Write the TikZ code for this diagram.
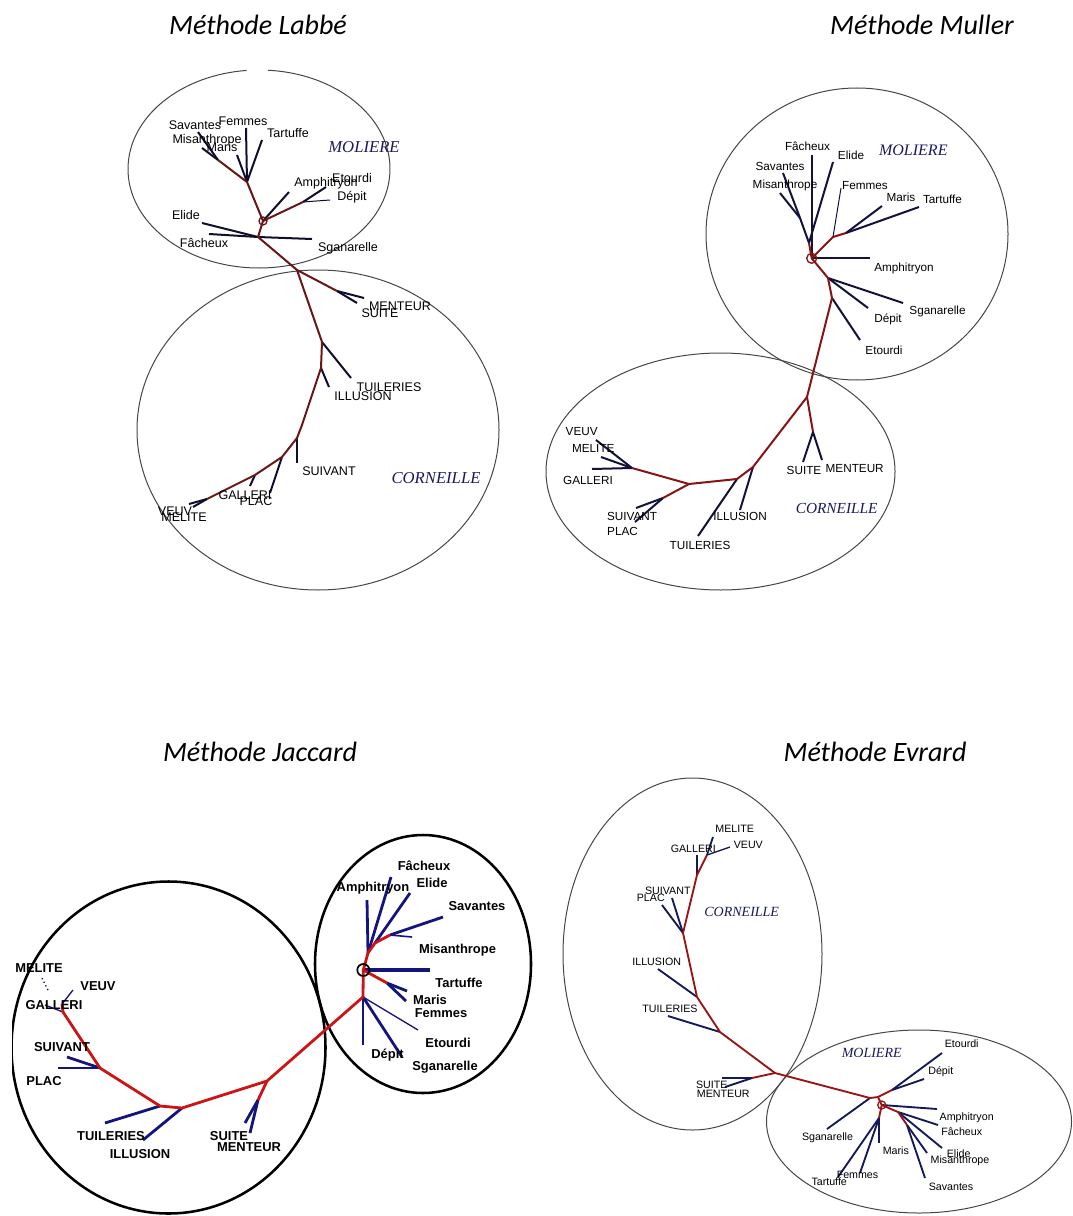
\documentclass[tikz,border=0pt]{standalone}
\usepackage{fontspec}
\setmainfont{Liberation Sans}
\newfontfamily\titlefont{Carlito}
\newfontfamily\grpfont{Liberation Serif}
\definecolor{ringgray}{RGB}{70,70,70}
\definecolor{grpnavy}{RGB}{25,25,95}
\definecolor{trunkA}{RGB}{105,22,22}
\definecolor{leafA}{RGB}{15,15,45}
\definecolor{trunkB}{RGB}{135,20,20}
\definecolor{leafB}{RGB}{18,18,60}
\definecolor{trunkC}{RGB}{205,20,20}
\definecolor{leafC}{RGB}{20,20,125}
\definecolor{trunkD}{RGB}{155,20,20}
\definecolor{leafD}{RGB}{20,25,90}

\tikzset{every picture/.style={line width=0.75pt}}

\begin{document}
\begin{tikzpicture}[x=0.75pt,y=0.75pt,yscale=-1,xscale=1,
    ring/.style={draw=ringgray, line width=0.75},
    thickring/.style={draw=black, line width=1.9},
    ttl/.style={inner sep=0pt, font=\titlefont\itshape\fontsize{21}{25}\selectfont},
    grp/.style={inner sep=0pt, text=grpnavy, font=\grpfont\itshape\fontsize{#1}{#1}\selectfont},
    labA/.style={inner sep=0pt, font=\fontsize{9.4}{10}\selectfont},
    labB/.style={inner sep=0pt, font=\fontsize{8.8}{9}\selectfont},
    labC/.style={inner sep=0pt, font=\bfseries\fontsize{9.7}{10}\selectfont},
    labD/.style={inner sep=0pt, font=\fontsize{8}{9}\selectfont},
    trA/.style={draw=trunkA, line width=1.5, line join=round},
    lfA/.style={draw=leafA, line width=1.5},
    trB/.style={draw=trunkB, line width=1.5, line join=round},
    lfB/.style={draw=leafB, line width=1.5},
    trC/.style={draw=trunkC, line width=2.1, line join=round},
    lfC/.style={draw=leafC, line width=2.1},
    trD/.style={draw=trunkD, line width=1.4, line join=round},
    lfD/.style={draw=leafD, line width=1.4}]
\useasboundingbox (0,0) rectangle (1072,1216);

% Titles
\node[ttl] (ttlLabbe) at (258,25) {Méthode Labbé};
\node[ttl] (ttlMuller) at (922,25) {Méthode Muller};
\node[ttl] (ttlJaccard) at (260,752) {Méthode Jaccard};
\node[ttl] (ttlEvrard) at (875,752) {Méthode Evrard};

%%%%%%%%%%%%%%%% Labbe
\draw[ring] (259,169) ++(274:131 and 99) arc[start angle=274, end angle=624.6, x radius=131, y radius=99];
\draw[ring] (318,430) ellipse [x radius=181, y radius=160];
% junctions
\coordinate (lbR) at (263,221);
\coordinate (lbA1) at (258,237);
\coordinate (lbA2) at (297,270);
\coordinate (lbA3) at (322,342);
\coordinate (lbA4) at (321,368);
\coordinate (lbA5) at (302,425);
\coordinate (lbA6) at (297,438);
\coordinate (lbA7) at (282,457);
\coordinate (lbA8) at (255,475);
\coordinate (lbA9) at (207,499);
\coordinate (lbB1) at (247,182);
\coordinate (lbB2) at (218,160);
\coordinate (lbC1) at (303,202);
\coordinate (lbD1) at (337,291);
% leaves
\draw[lfA] (lbA1) -- (202,223) coordinate (lbElideE);
\draw[lfA] (lbA1) -- (209,234) coordinate (lbFachE);
\draw[lfA] (lbA1) -- (312,239) coordinate (lbSganE);
\draw[lfA] (lbB1) -- (246,128) coordinate (lbFemE);
\draw[lfA] (lbB1) -- (262,140) coordinate (lbTartE);
\draw[lfA] (lbB1) -- (237,155) coordinate (lbMarisE);
\draw[lfA] (lbB2) -- (202,148) coordinate (lbMisE);
\draw[lfA] (lbB2) -- (198,132) coordinate (lbSavE);
\draw[lfA] (lbR) -- (289,192) coordinate (lbAmphE);
\draw[lfA] (lbC1) -- (326,187) coordinate (lbEtoE);
\draw[lfA, line width=0.75] (lbC1) -- (330,200) coordinate (lbDepE);
\draw[lfA] (lbD1) -- (364,298) coordinate (lbMentE);
\draw[lfA] (lbD1) -- (357,303) coordinate (lbSuiteE);
\draw[lfA] (lbA3) -- (351,378) coordinate (lbTuilE);
\draw[lfA] (lbA4) -- (329,387) coordinate (lbIllE);
\draw[lfA] (lbA6) -- (297,463) coordinate (lbSuivE);
\draw[lfA] (lbA7) -- (270,493) coordinate (lbPlacE);
\draw[lfA] (lbA8) -- (250,486) coordinate (lbGallE);
\draw[lfA] (lbA9) -- (189,504) coordinate (lbVeuvE);
\draw[lfA] (lbA9) -- (193,507) coordinate (lbMelE);
% trunk
\draw[trA] (lbB2) -- (lbB1) -- (lbR) -- (lbA1) -- (lbA2) -- (lbA3) -- (lbA4) -- (lbA5) -- (lbA6) -- (lbA7) -- (lbA8) -- (lbA9);
\draw[trA] (lbR) -- (lbC1);
\draw[trA] (lbA2) -- (lbD1);
\draw[trA, line width=1] (lbR) circle [radius=4];
% labels
\node[labA] (lbSavantes) at (195,125) {Savantes};
\node[labA] (lbFemmes) at (243,121) {Femmes};
\node[labA] (lbTartuffe) at (288,133) {Tartuffe};
\node[labA] (lbMisanthrope) at (207,140) {Misanthrope};
\node[labA] (lbMaris) at (222,147) {Maris};
\node[labA] (lbAmphitryon) at (326,183) {Amphitryon};
\node[labA] (lbEtourdi) at (352,178) {Etourdi};
\node[labA] (lbDepit) at (352,197) {Dépit};
\node[labA] (lbElide) at (186,215) {Elide};
\node[labA] (lbFacheux) at (204,243) {Fâcheux};
\node[labA] (lbSganarelle) at (348,248) {Sganarelle};
\node[labA] (lbMenteur) at (400,306) {MENTEUR};
\node[labA] (lbSuite) at (380,313) {SUITE};
\node[labA] (lbTuileries) at (389,387) {TUILERIES};
\node[labA] (lbIllusion) at (363,396) {ILLUSION};
\node[labA] (lbSuivant) at (329,471) {SUIVANT};
\node[labA] (lbGalleri) at (245,495) {GALLERI};
\node[labA] (lbPlac) at (256,501) {PLAC};
\node[labA] (lbVeuv) at (175,511) {VEUV};
\node[labA] (lbMelite) at (184,517) {MELITE};
\node[grp=12.5] (lbMoliere) at (364,147) {MOLIERE};
\node[grp=12.5] (lbCorneille) at (436,478) {CORNEILLE};

%%%%%%%%%%%%%%%% Muller
\draw[ring] (857,234) ellipse [x radius=151, y radius=146];
\draw[ring] (720.5,471.5) ellipse [x radius=174.5, y radius=118.5];
% junctions
\coordinate (muR) at (811.7,258.3);
\coordinate (muM1) at (809,243);
\coordinate (muM2) at (800,218);
\coordinate (muM3) at (833,237);
\coordinate (muM4) at (846,233);
\coordinate (muM5) at (828,278);
\coordinate (muM6) at (832,298);
\coordinate (muM7) at (807,397);
\coordinate (muM8) at (753,467);
\coordinate (muM9) at (737,479);
\coordinate (muM10) at (689,484);
\coordinate (muM11) at (632,468);
\coordinate (muM12) at (813,432);
\coordinate (muM13) at (663,498);
% leaves
\draw[lfB] (muM1) -- (muM2) -- (783,173) coordinate (muSavE);
\draw[lfB] (muM2) -- (780,193) coordinate (muMisE);
\draw[lfB] (muR) -- (811.7,155) coordinate (muFachE);
\draw[lfB] (muM1) -- (833,162) coordinate (muElideE);
\draw[lfB, line width=0.75] (muM3) -- (841,188) coordinate (muFemE);
\draw[lfB] (muM4) -- (882,206) coordinate (muMarisE);
\draw[lfB] (muM4) -- (919,207) coordinate (muTartE);
\draw[lfB] (muR) -- (870,258.3) coordinate (muAmphE);
\draw[lfB] (muM5) -- (903,303) coordinate (muSganE);
\draw[lfB] (muM5) -- (868,308) coordinate (muDepE);
\draw[lfB] (muM6) -- (860,340) coordinate (muEtoE);
\draw[lfB] (muM12) -- (803,462) coordinate (muSuiteE);
\draw[lfB] (muM12) -- (822,460) coordinate (muMentE);
\draw[lfB] (muM8) -- (740,510) coordinate (muIllE);
\draw[lfB] (muM9) -- (698,536) coordinate (muTuilE);
\draw[lfB] (muM13) -- (636,508) coordinate (muSuivE);
\draw[lfB] (muM13) -- (635,522) coordinate (muPlacE);
\draw[lfB] (muM11) -- (596,440) coordinate (muVeuvE);
\draw[lfB] (muM11) -- (601,457) coordinate (muMelE);
\draw[lfB] (muM11) -- (592,469) coordinate (muGallE);
% trunk
\draw[trB] (muM1) -- (muR) -- (muM3) -- (muM4);
\draw[trB] (muR) -- (muM5) -- (muM6) -- (muM7) -- (muM8) -- (muM9) -- (muM10) -- (muM11);
\draw[trB] (muM7) -- (muM12);
\draw[trB] (muM10) -- (muM13);
\draw[trB, line width=1] (muR) circle [radius=5];
% labels
\node[labB] (muFacheux) at (807.5,146) {Fâcheux};
\node[labB] (muElide) at (851,155) {Elide};
\node[labB] (muSavantes) at (780,166) {Savantes};
\node[labB] (muMisanthrope) at (785,185) {Misanthrope};
\node[labB] (muFemmes) at (865,186) {Femmes};
\node[labB] (muMaris) at (901,197) {Maris};
\node[labB] (muTartuffe) at (942.5,199) {Tartuffe};
\node[labB] (muAmphitryon) at (904,268) {Amphitryon};
\node[labB] (muSganarelle) at (937.5,311.7) {Sganarelle};
\node[labB] (muDepit) at (888,319) {Dépit};
\node[labB] (muEtourdi) at (884,350) {Etourdi};
\node[labB] (muVeuv) at (581.7,431.7) {VEUV};
\node[labB] (muMelite) at (593.3,448.3) {MELITE};
\node[labB] (muGalleri) at (588,480) {GALLERI};
\node[labB] (muSuite) at (804,470.7) {SUITE};
\node[labB] (muMenteur) at (854.7,468.3) {MENTEUR};
\node[labB] (muSuivant) at (632,516.7) {SUIVANT};
\node[labB] (muPlac) at (622.5,531.7) {PLAC};
\node[labB] (muIllusion) at (740,516) {ILLUSION};
\node[labB] (muTuileries) at (700,545) {TUILERIES};
\node[grp=12] (muMoliere) at (913.3,150) {MOLIERE};
\node[grp=11.5] (muCorneille) at (836.7,508.3) {CORNEILLE};

%%%%%%%%%%%%%%%% Jaccard
\begin{scope}
  \clip (12,850) rectangle (545,1216);
  \draw[thickring] (168.5,1047.5) ellipse [x radius=157, y radius=166];
\end{scope}
\draw[thickring] (423,964) ellipse [x radius=108, y radius=129];
% junctions
\coordinate (jaR) at (363.3,970);
\coordinate (jaJ1) at (368,953);
\coordinate (jaJ2) at (375,943);
\coordinate (jaJ3) at (390,935);
\coordinate (jaJ4) at (387,983);
\coordinate (jaJ5) at (363,997);
\coordinate (jaJ7) at (267,1081);
\coordinate (jaJ8) at (182,1108);
\coordinate (jaJ9) at (160,1106);
\coordinate (jaJ10) at (100,1068);
\coordinate (jaJ11) at (63,1012);
\coordinate (jaJ12) at (62,1004);
\coordinate (jaJ13) at (258,1100);
% leaves
\draw[lfC] (jaJ1) -- (367,900) coordinate (jaAmphE);
\draw[lfC] (jaJ1) -- (391,877) coordinate (jaFachE);
\draw[lfC] (jaJ2) -- (410,893) coordinate (jaElideE);
\draw[lfC] (jaJ3) -- (443,917) coordinate (jaSavE);
\draw[lfC, line width=1.2] (jaJ3) -- (412,937) coordinate (jaMisE);
\draw[lfC, line width=2.8] (jaR) -- (430,970) coordinate (jaTartE);
\draw[lfC] (jaJ4) -- (407,991) coordinate (jaMarisE);
\draw[lfC] (jaJ4) -- (406,1001) coordinate (jaFemE);
\draw[lfC] (jaJ5) -- (363,1045) coordinate (jaDepE);
\draw[lfC] (jaJ5) -- (402,1057) coordinate (jaSganE);
\draw[lfC, line width=1] (jaJ5) -- (418,1030) coordinate (jaEtoE);
\draw[lfC] (jaJ13) -- (245,1123) coordinate (jaSuiteE);
\draw[lfC] (jaJ13) -- (250,1133) coordinate (jaMentE);
\draw[lfC] (jaJ8) -- (143,1140) coordinate (jaIllE);
\draw[lfC] (jaJ9) -- (105,1123) coordinate (jaTuilE);
\draw[lfC] (jaJ10) -- (67,1057) coordinate (jaSuivE);
\draw[lfC] (jaJ10) -- (58,1068) coordinate (jaPlacE);
\draw[lfC, line width=1] (jaJ11) -- (45,1005) coordinate (jaGallE);
\draw[lfC, line width=1] (jaJ12) -- (73,990) coordinate (jaVeuvE);
\coordinate (jaMelS) at (48,990);
\draw[lfC, line width=1, dotted] (jaMelS) -- (42,978) coordinate (jaMelE);
% trunk
\draw[trC] (jaJ3) -- (jaJ2) -- (jaJ1) -- (jaR) -- (jaJ5) -- (jaJ7) -- (jaJ8) -- (jaJ9) -- (jaJ10) -- (jaJ11) -- (jaJ12);
\draw[trC] (jaR) -- (jaJ4);
\draw[trC] (jaJ7) -- (jaJ13);
\draw[draw=black, line width=1.3] (jaR) circle [radius=6];
% labels
\node[labC] (jaFacheux) at (424,866) {Fâcheux};
\node[labC] (jaElide) at (432,883) {Elide};
\node[labC] (jaAmphitryon) at (373,888) {Amphitryon};
\node[labC] (jaSavantes) at (477,906) {Savantes};
\node[labC] (jaMisanthrope) at (457.5,950) {Misanthrope};
\node[labC] (jaTartuffe) at (459,983) {Tartuffe};
\node[labC] (jaMaris) at (430,1000) {Maris};
\node[labC] (jaFemmes) at (441,1013) {Femmes};
\node[labC] (jaEtourdi) at (448,1043) {Etourdi};
\node[labC] (jaDepit) at (387.5,1055) {Dépit};
\node[labC] (jaSganarelle) at (445,1067) {Sganarelle};
\node[labC] (jaMelite) at (39,968) {MELITE};
\node[labC] (jaVeuv) at (98,986) {VEUV};
\node[labC] (jaGalleri) at (54,1005) {GALLERI};
\node[labC] (jaSuivant) at (62,1047) {SUIVANT};
\node[labC] (jaPlac) at (44,1081) {PLAC};
\node[labC] (jaTuileries) at (111,1136) {TUILERIES};
\node[labC] (jaIllusion) at (140,1154) {ILLUSION};
\node[labC] (jaSuite) at (229,1136) {SUITE};
\node[labC] (jaMenteur) at (249,1147) {MENTEUR};

%%%%%%%%%%%%%%%% Evrard
\draw[ring] (692.5,954) ellipse [x radius=129.5, y radius=176];
\draw[ring] (919,1121.5) ellipse [x radius=152.5, y radius=91.5];
% junctions
\coordinate (evR) at (881.7,1105);
\coordinate (evE1) at (707,855);
\coordinate (evE2) at (697,875);
\coordinate (evE3) at (683,933);
\coordinate (evE4) at (697,997);
\coordinate (evE5) at (720,1032);
\coordinate (evE6) at (775,1073);
\coordinate (evE7) at (752,1078);
\coordinate (evE8) at (870,1098);
\coordinate (evE9) at (878,1097);
\coordinate (evE10) at (892,1090);
\coordinate (evE11) at (879,1118);
\coordinate (evE12) at (898,1112);
\coordinate (evE13) at (907,1125);
% leaves
\draw[lfD] (evE1) -- (713,837) coordinate (evMelE);
\draw[lfD, line width=1] (evE1) -- (730,847) coordinate (evVeuvE);
\draw[lfD] (evE2) -- (697,855) coordinate (evGallE);
\draw[lfD] (evE3) -- (672,898) coordinate (evSuivE);
\draw[lfD] (evE3) -- (662,905) coordinate (evPlacE);
\draw[lfD] (evE4) -- (658,969) coordinate (evIllE);
\draw[lfD] (evE5) -- (668,1016) coordinate (evTuilE);
\draw[lfD] (evE7) -- (722,1078) coordinate (evSuiteE);
\draw[lfD] (evE7) -- (725,1087) coordinate (evMentE);
\draw[lfD] (evE8) -- (827,1129) coordinate (evSganE);
\draw[lfD] (evE10) -- (942,1053) coordinate (evEtoE);
\draw[lfD] (evE10) -- (924,1079) coordinate (evDepE);
\draw[lfD] (evE11) -- (838,1177) coordinate (evTartE);
\draw[lfD] (evE11) -- (860,1173) coordinate (evFemE);
\draw[lfD] (evE11) -- (879,1143) coordinate (evMarisE);
\draw[lfD] (evR) -- (937,1109) coordinate (evAmphE);
\draw[lfD] (evE12) -- (938,1125) coordinate (evFachE);
\draw[lfD] (evE12) -- (942,1148) coordinate (evElideE);
\draw[lfD] (evE13) -- (927,1153) coordinate (evMisE);
\draw[lfD] (evE13) -- (925,1178) coordinate (evSavE);
% trunk
\draw[trD] (evE1) -- (evE2) -- (evE3) -- (evE4) -- (evE5) -- (evE6) -- (evE8) -- (evE9) -- (evR) -- (evE11);
\draw[trD] (evE6) -- (evE7);
\draw[trD] (evE9) -- (evE10);
\draw[trD] (evR) -- (evE12) -- (evE13);
\draw[trD, line width=1] (evR) circle [radius=4];
% labels
\node[labD] (evMelite) at (734.7,829.3) {MELITE};
\node[labD] (evVeuv) at (748.3,845) {VEUV};
\node[labD] (evGalleri) at (693.3,849.3) {GALLERI};
\node[labD] (evSuivant) at (667.8,890.7) {SUIVANT};
\node[labD] (evPlac) at (650.8,898.3) {PLAC};
\node[labD] (evIllusion) at (656.7,961.7) {ILLUSION};
\node[labD] (evTuileries) at (670,1009.3) {TUILERIES};
\node[labD] (evSuite) at (711.7,1085) {SUITE};
\node[labD] (evMenteur) at (723.3,1094) {MENTEUR};
\node[labD] (evEtourdi) at (961.7,1044) {Etourdi};
\node[labD] (evDepit) at (940.8,1071.7) {Dépit};
\node[labD] (evAmphitryon) at (966.7,1117.3) {Amphitryon};
\node[labD] (evFacheux) at (961.7,1131.7) {Fâcheux};
\node[labD] (evSganarelle) at (827.5,1137.3) {Sganarelle};
\node[labD] (evMaris) at (895.8,1150.7) {Maris};
\node[labD] (evElide) at (958.7,1154) {Elide};
\node[labD] (evMisanthrope) at (960,1160.7) {Misanthrope};
\node[labD] (evFemmes) at (857.5,1175) {Femmes};
\node[labD] (evTartuffe) at (829.2,1181.7) {Tartuffe};
\node[labD] (evSavantes) at (951,1186.7) {Savantes};
\node[grp=10.5] (evCorneille) at (741.7,911.7) {CORNEILLE};
\node[grp=10.5] (evMoliere) at (871.7,1053.3) {MOLIERE};

\end{tikzpicture}
\end{document}
